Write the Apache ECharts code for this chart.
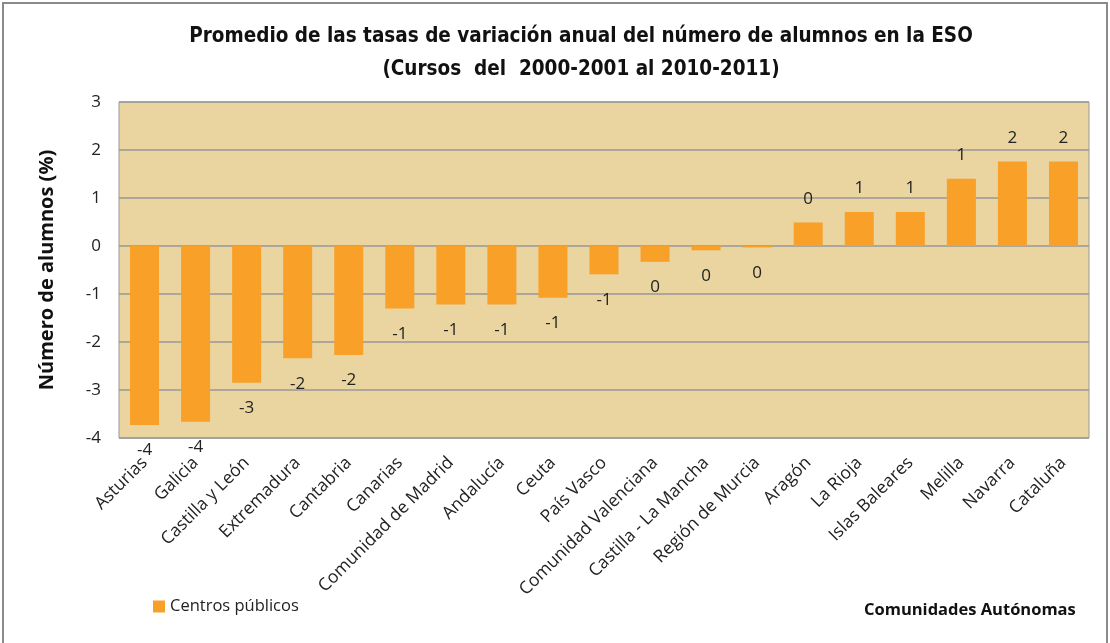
<!DOCTYPE html>
<html lang="es">
<head>
<meta charset="UTF-8">
<title>Promedio de las tasas de variación anual</title>
<script src="https://cdn.jsdelivr.net/npm/echarts@6/dist/echarts.min.js"></script>
<style>
  html, body { margin: 0; padding: 0; background: #fff; }
  #chart { width: 1110px; height: 643px; }
</style>
</head>
<body>
<div id="chart"></div>
<script>
var comunidades = ['Asturias', 'Galicia', 'Castilla y León', 'Extremadura', 'Cantabria', 'Canarias',
    'Comunidad de Madrid', 'Andalucía', 'Ceuta', 'País Vasco', 'Comunidad Valenciana',
    'Castilla - La Mancha', 'Región de Murcia', 'Aragón', 'La Rioja', 'Islas Baleares',
    'Melilla', 'Navarra', 'Cataluña'];
var centrosPublicos = [-3.73, -3.66, -2.85, -2.34, -2.27, -1.30, -1.22, -1.22, -1.08, -0.59,
    -0.33, -0.09, -0.03, 0.49, 0.71, 0.71, 1.40, 1.76, 1.76];
var yTicks = [-4, -3, -2, -1, 0, 1, 2, 3];

var font = '"DejaVu Sans Condensed", "DejaVu Sans", sans-serif';
var font2 = '"Open Sans", "Noto Sans", sans-serif';

var option = {
    animation: false,
    title: {
        text: 'Promedio de las tasas de variación anual del número de alumnos en la ESO\n(Cursos  del  2000-2001 al 2010-2011)',
        left: 576,
        textAlign: 'center',
        top: 15,
        textStyle: {
            fontFamily: font,
            fontSize: 20.5,
            fontWeight: 'bold',
            color: '#111',
            lineHeight: 33
        }
    },
    legend: {
        data: ['Centros públicos'],
        left: 148,
        top: 593,
        itemWidth: 12,
        itemHeight: 12,
        itemGap: 4,
        icon: 'rect',
        textStyle: { fontFamily: font2, fontSize: 16.5, color: '#222' }
    },
    graphic: [
        {
            type: 'rect',
            shape: { x: 3, y: 3, width: 1104, height: 645 },
            style: { fill: 'none', stroke: '#8a8a8a', lineWidth: 2 },
            silent: true
        },
        {
            type: 'text',
            left: 864,
            top: 602,
            style: {
                text: 'Comunidades Autónomas',
                font: 'bold 16.5px ' + font2,
                fill: '#111'
            }
        }
    ],
    grid: {
        left: 119,
        right: 21,
        top: 102,
        bottom: 205,
        show: true,
        backgroundColor: '#ead4a0',
        borderColor: '#999',
        borderWidth: 1
    },
    xAxis: {
        type: 'category',
        data: comunidades,
        position: 'bottom',
        axisLine: { show: false, onZero: false },
        axisTick: { show: false },
        axisLabel: {
            interval: 0,
            rotate: 45,
            margin: 22,
            fontFamily: font2,
            fontSize: 17.5,
            color: '#222'
        }
    },
    yAxis: {
        type: 'value',
        min: -4,
        max: 3,
        interval: 1,
        name: 'Número de alumnos (%)',
        nameLocation: 'middle',
        nameGap: 62,
        nameRotate: 90,
        nameTextStyle: { fontFamily: font2, fontSize: 20, fontWeight: 'bold', color: '#111' },
        axisLine: { show: false },
        axisTick: { show: false },
        splitLine: { lineStyle: { color: '#999', width: 1.5 } },
        axisLabel: {
            margin: 18,
            fontFamily: font2,
            fontSize: 17,
            color: '#222',
            formatter: function (v) { return yTicks.indexOf(v) >= 0 ? String(v) : ''; }
        }
    },
    series: [{
        name: 'Centros públicos',
        type: 'bar',
        barWidth: 29,
        itemStyle: { color: '#f9a028' },
        label: {
            show: true,
            fontFamily: font2,
            fontSize: 17,
            color: '#222',
            formatter: function (p) {
                var r = Math.round(p.value);
                return r === 0 ? '0' : String(r);
            }
        },
        // etiquetas fuera del extremo de cada barra
        data: centrosPublicos.map(function (v) {
            return {
                value: v,
                label: { position: v < 0 ? 'bottom' : 'top', distance: v < 0 ? 17 : 15 }
            };
        })
    }]
};

var myChart = echarts.init(document.getElementById('chart'));
myChart.setOption(option);
</script>
</body>
</html>
